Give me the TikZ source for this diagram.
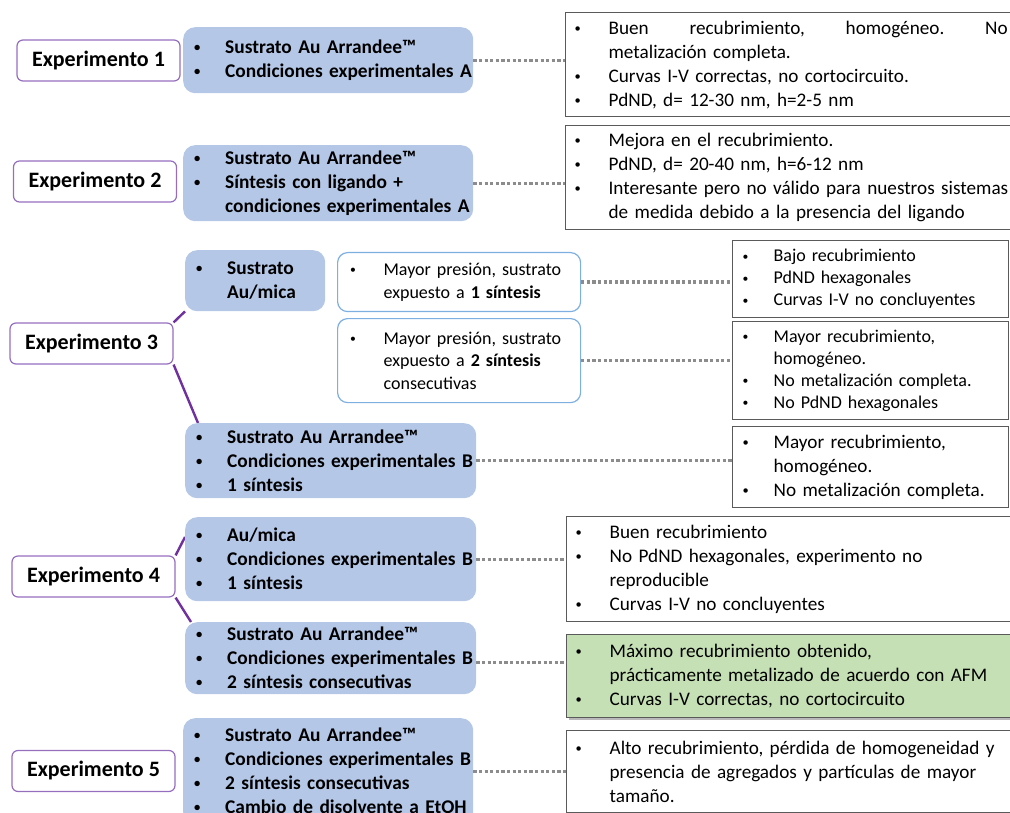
\documentclass[tikz,border=0pt]{standalone}
\usepackage{fontspec}
\usepackage{graphicx}
\setmainfont{Carlito}
\usetikzlibrary{calc,shadows,backgrounds}

\definecolor{condblue}{RGB}{180,199,231}
\definecolor{presline}{RGB}{125,175,225}
\definecolor{expline}{RGB}{150,110,190}
\definecolor{branchc}{RGB}{112,48,160}
\definecolor{resline}{RGB}{90,90,90}
\definecolor{bestgreen}{RGB}{197,224,180}
\definecolor{dotgray}{RGB}{140,140,140}

% bullet lines: \bl = item line, \cl = continuation line
\newlength{\bulpre}
\newlength{\bulind}
\newcommand{\dotb}{\raisebox{0.1em}{\scalebox{0.65}{\textbullet}}}
\newcommand{\bl}[1]{\mbox{\makebox[\bulind][l]{\hspace*{\bulpre}\dotb}#1}}
\newcommand{\cl}[1]{\mbox{\hspace*{\bulind}#1}}

\begin{document}
\begin{tikzpicture}[x=1pt,y=-1pt,
    expbox/.style={draw=expline, line width=1.2pt, fill=white, rounded corners=6pt,
        minimum width=163pt, minimum height=41pt, inner sep=0pt,
        font=\bfseries\fontsize{22}{26}\selectfont},
    condbox/.style={fill=condblue, rounded corners=12pt, anchor=north west, inner sep=0pt, align=left,
        font=\bfseries\fontsize{19.4}{24}\selectfont\setlength{\bulpre}{11pt}\setlength{\bulind}{42pt}},
    presbox/.style={draw=presline, line width=1.2pt, fill=white, rounded corners=10pt, anchor=north west,
        inner sep=0pt, align=left, text width=243pt,
        font=\fontsize{18}{22.5}\selectfont\setlength{\bulpre}{12.5pt}\setlength{\bulind}{46pt}},
    resbox/.style={draw=resline, line width=1.3pt, fill=white, anchor=north west, inner sep=0pt,
        align=left, text width=460pt,
        font=\fontsize{19.2}{24}\selectfont\setlength{\bulpre}{9pt}\setlength{\bulind}{43pt}},
    smallres/.style={resbox, text width=276pt,
        font=\fontsize{18}{22}\selectfont\setlength{\bulpre}{10pt}\setlength{\bulind}{41pt}},
    link/.style={draw=dotgray, line width=3.2pt, dash pattern=on 3.2pt off 2.4pt},
    branch/.style={draw=branchc, line width=2.4pt}]
\useasboundingbox (0,0) rectangle (1010,813);
\clip (0,0) rectangle (1010,813);

% experiments
\node[expbox] (e1) at (98.5,60.5) {Experimento 1};
\node[expbox] (e2) at (95,181.5) {Experimento 2};
\node[expbox] (e3) at (91.5,343.5) {Experimento 3};
\node[expbox] (e4) at (93.5,576.5) {Experimento 4};
\node[expbox] (e5) at (93.5,771) {Experimento 5};

% substrates and conditions
\node[condbox, text width=290pt, minimum height=66pt] (c1) at (183,27)
    {\bl{Sustrato Au Arrandee™}\\ \bl{Condiciones experimentales A}};
\node[condbox, text width=290pt, minimum height=76pt] (c2) at (183,145)
    {\bl{Sustrato Au Arrandee™}\\ \bl{Síntesis con ligando +}\\ \cl{condiciones experimentales A}};
\node[condbox, text width=140pt, minimum height=61pt] (c3a) at (185,250)
    {\bl{Sustrato}\\ \cl{Au/mica}};
\node[condbox, text width=291pt, minimum height=75pt] (c3b) at (185,423)
    {\bl{Sustrato Au Arrandee™}\\ \bl{Condiciones experimentales B}\\ \bl{1 síntesis}};
\node[condbox, text width=291pt, minimum height=84pt] (c4a) at (185,517)
    {\bl{Au/mica}\\ \bl{Condiciones experimentales B}\\ \bl{1 síntesis}};
\node[condbox, text width=291pt, minimum height=72pt] (c4b) at (185,622)
    {\bl{Sustrato Au Arrandee™}\\ \bl{Condiciones experimentales B}\\ \bl{2 síntesis consecutivas}};
\node[condbox, text width=290pt, minimum height=106pt] (c5) at (183,718)
    {\bl{Sustrato Au Arrandee™}\\ \bl{Condiciones experimentales B}\\ \bl{2 síntesis consecutivas}\\ \bl{Cambio de disolvente a EtOH}};

% pressure variants of experiment 3
\node[presbox, minimum height=59pt] (p3a) at (337,252)
    {\bl{Mayor presión, sustrato}\\ \cl{expuesto a \textbf{1 síntesis}}};
\node[presbox, minimum height=84pt] (p3b) at (337,318)
    {\bl{Mayor presión, sustrato}\\ \cl{expuesto a \textbf{2 síntesis}}\\ \cl{consecutivas}};

% results
\node[resbox, minimum height=104pt] (r1) at (565,12)
    {\bl{\makebox[399pt][l]{Buen\hfill recubrimiento,\hfill homogéneo.\hfill No}}\\ \cl{metalización completa.}\\
     \bl{Curvas I-V correctas, no cortocircuito.}\\ \bl{PdND, d= 12-30 nm, h=2-5 nm}};
\node[resbox, minimum height=104pt] (r2) at (565,125)
    {\bl{Mejora en el recubrimiento.}\\ \bl{PdND, d= 20-40 nm, h=6-12 nm}\\
     \bl{Interesante pero no válido para nuestros sistemas}\\ \cl{de medida debido a la presencia del ligando}};
\node[smallres, minimum height=77pt] (r3a) at (732,240)
    {\bl{Bajo recubrimiento}\\ \bl{PdND hexagonales}\\ \bl{Curvas I-V no concluyentes}};
\node[smallres, minimum height=98pt] (r3b) at (732,321)
    {\bl{Mayor recubrimiento,}\\ \cl{homogéneo.}\\ \bl{No metalización completa.}\\ \bl{No PdND hexagonales}};
\node[smallres, minimum height=81pt,
    font=\fontsize{19.2}{24}\selectfont\setlength{\bulpre}{10pt}\setlength{\bulind}{41pt}] (r3c) at (732,426)
    {\bl{Mayor recubrimiento,}\\ \cl{homogéneo.}\\ \bl{No metalización completa.}};
\node[resbox, minimum height=105pt] (r4a) at (566,516)
    {\bl{Buen recubrimiento}\\ \bl{No PdND hexagonales, experimento no}\\ \cl{reproducible}\\ \bl{Curvas I-V no concluyentes}};
\node[resbox, minimum height=83pt, fill=bestgreen,
    drop shadow={shadow xshift=2pt, shadow yshift=-2pt, opacity=0.55}] (r4b) at (566,634)
    {\bl{Máximo recubrimiento obtenido,}\\ \cl{prácticamente metalizado de acuerdo con AFM}\\ \bl{Curvas I-V correctas, no cortocircuito}};
\node[resbox, minimum height=82pt] (r5) at (566,730)
    {\bl{Alto recubrimiento, pérdida de homogeneidad y}\\ \cl{presencia de agregados y partículas de mayor}\\ \cl{tamaño.}};

% dotted links to the results
\draw[link] (c1.east) -- (c1.east -| r1.west);
\draw[link] (c2.east) -- (c2.east -| r2.west);
\draw[link] (p3a.east) -- (p3a.east -| r3a.west);
\draw[link] (p3b.east) -- (p3b.east -| r3b.west);
\draw[link] (c3b.east) -- (c3b.east -| r3c.west);
\draw[link] (c4a.east) -- (c4a.east -| r4a.west);
\draw[link] ([yshift=-4pt]c4b.east) -- ([yshift=-4pt]c4b.east -| r4b.west);
\draw[link] (c5.east) -- (c5.east -| r5.west);

% branches of experiments 3 and 4
\begin{scope}[on background layer]
\draw[branch] (e3.north east) -- (c3a.south west);
\draw[branch] (e3.south east) -- ($(c3b.north west)+(13,0)$);
\draw[branch] (e4.north east) -- ($(c4a.north west)+(0,20)$);
\draw[branch] (e4.south east) -- ($(c4b.north west)+(6,0)$);
\end{scope}
\end{tikzpicture}
\end{document}
